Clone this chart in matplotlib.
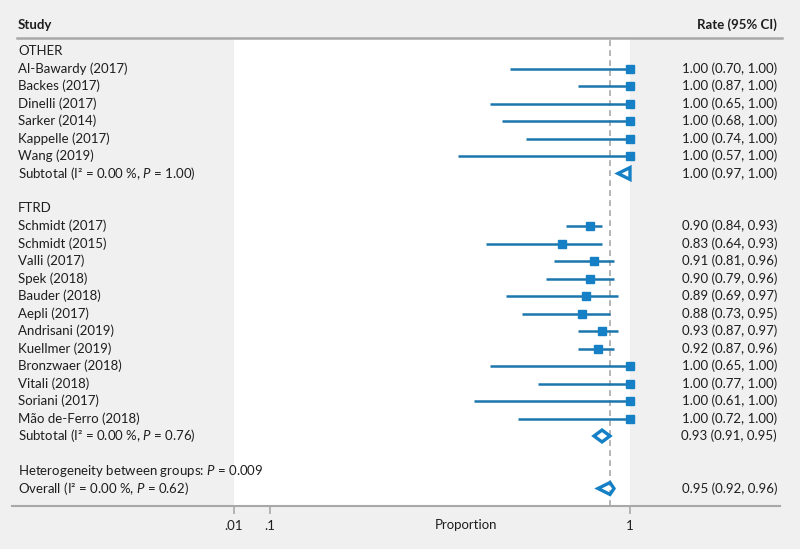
import numpy as np
import matplotlib
matplotlib.use('Agg')
import matplotlib.pyplot as plt
import matplotlib.transforms as mtransforms
from matplotlib.lines import Line2D
from matplotlib.patches import Polygon

# fonts
plt.rcParams['font.family'] = ['Lato', 'DejaVu Sans']
plt.rcParams['mathtext.fontset'] = 'custom'
plt.rcParams['mathtext.rm'] = 'Lato'
plt.rcParams['mathtext.it'] = 'Lato:italic'

# data
other_labels = ['Al-Bawardy (2017)', 'Backes (2017)', 'Dinelli (2017)',
                'Sarker (2014)', 'Kappelle (2017)', 'Wang (2019)']
other_est = [1.00, 1.00, 1.00, 1.00, 1.00, 1.00]
other_lo = [0.70, 0.87, 0.65, 0.68, 0.74, 0.57]
other_hi = [1.00, 1.00, 1.00, 1.00, 1.00, 1.00]
other_sub = [1.00, 0.97, 1.00]
other_sub_label = 'Subtotal (I² = 0.00 %, $P$ = 1.00)'

ftrd_labels = ['Schmidt (2017)', 'Schmidt (2015)', 'Valli (2017)', 'Spek (2018)',
               'Bauder (2018)', 'Aepli (2017)', 'Andrisani (2019)', 'Kuellmer (2019)',
               'Bronzwaer (2018)', 'Vitali (2018)', 'Soriani (2017)', 'Mão de-Ferro (2018)']
ftrd_est = [0.90, 0.83, 0.91, 0.90, 0.89, 0.88, 0.93, 0.92, 1.00, 1.00, 1.00, 1.00]
ftrd_lo = [0.84, 0.64, 0.81, 0.79, 0.69, 0.73, 0.87, 0.87, 0.65, 0.77, 0.61, 0.72]
ftrd_hi = [0.93, 0.93, 0.96, 0.96, 0.97, 0.95, 0.97, 0.96, 1.00, 1.00, 1.00, 1.00]
ftrd_sub = [0.93, 0.91, 0.95]
ftrd_sub_label = 'Subtotal (I² = 0.00 %, $P$ = 0.76)'

overall = [0.95, 0.92, 0.96]
overall_label = 'Overall (I² = 0.00 %, $P$ = 0.62)'
het_label = 'Heterogeneity between groups: $P$ = 0.009'

xticks = [0.01, 0.1, 1]
xticklabels = ['.01', '.1', '1']

# colours
bg = '#f0f0f0'
blue_line = '#1c76ae'
blue_mark = '#1580c6'
grey = '#a8a8a8'
txt = '#1e1e1e'
fs = 9.5

W, H = 800, 549
fig = plt.figure(figsize=(W / 100, H / 100), dpi=100, facecolor=bg)

def fx(px):
    return px / W

def fy(py):
    return 1 - py / H

# plot strip: x .01 -> 234px, 1 -> 630px ; top 38px, bottom 506px
ax = fig.add_axes([fx(234), fy(506), fx(630) - fx(234), fy(38) - fy(506)])
ax.set_facecolor('white')
ax.set_xlim(0.01, 1.0)
first_row, last_row = 51.0, 488.5
row_h = (last_row - first_row) / 25
ax.set_ylim(25 + (506 - last_row) / row_h, -(first_row - 38) / row_h)
for sp in ax.spines.values():
    sp.set_visible(False)
ax.set_yticks([])
ax.set_xticks(xticks)
ax.set_xticklabels(xticklabels, fontsize=fs, color=txt)
ax.tick_params(axis='x', length=6, width=1.2, color=grey, pad=4)

# row positions
labels = []
r = 0
labels.append(('OTHER', r)); r += 1
other_rows = []
for lab in other_labels:
    labels.append((lab, r)); other_rows.append(r); r += 1
other_sub_row = r
labels.append((other_sub_label, r)); r += 2
labels.append(('FTRD', r)); r += 1
ftrd_rows = []
for lab in ftrd_labels:
    labels.append((lab, r)); ftrd_rows.append(r); r += 1
ftrd_sub_row = r
labels.append((ftrd_sub_label, r)); r += 2
labels.append((het_label, r)); r += 1
overall_row = r
labels.append((overall_label, r))

# reference line at overall estimate
ax.axvline(overall[0], color=grey, lw=1.2, ls=(0, (3.5, 2.5)), zorder=1)

# studies
def draw_studies(rws, est, lo, hi):
    ax.hlines(rws, lo, hi, color=blue_line, lw=1.8, zorder=2)
    ax.plot(est, rws, 's', color=blue_mark, ms=6, zorder=3, clip_on=False)

draw_studies(other_rows, other_est, other_lo, other_hi)
draw_studies(ftrd_rows, ftrd_est, ftrd_lo, ftrd_hi)

# pooled diamonds
def diamond(row, vals):
    e, l, h = vals
    d = 0.34
    poly = Polygon([[l, row], [e, row - d], [h, row], [e, row + d]], closed=True,
                   fill=False, edgecolor=blue_mark, lw=2.4, joinstyle='miter',
                   zorder=4, clip_on=False)
    ax.add_patch(poly)

diamond(other_sub_row, other_sub)
diamond(ftrd_sub_row, ftrd_sub)
diamond(overall_row, overall)

# text columns
tr = mtransforms.blended_transform_factory(fig.transFigure, ax.transData)
for lab, rw in labels:
    fig.text(fx(18), rw, lab, transform=tr, ha='left', va='center', fontsize=fs, color=txt)

def ci_text(rws, est, lo, hi):
    for rw, e, l, h in zip(rws, est, lo, hi):
        fig.text(fx(777), rw, f'{e:.2f} ({l:.2f}, {h:.2f})', transform=tr,
                 ha='right', va='center', fontsize=fs, color=txt)

ci_text(other_rows, other_est, other_lo, other_hi)
ci_text([other_sub_row], [other_sub[0]], [other_sub[1]], [other_sub[2]])
ci_text(ftrd_rows, ftrd_est, ftrd_lo, ftrd_hi)
ci_text([ftrd_sub_row], [ftrd_sub[0]], [ftrd_sub[1]], [ftrd_sub[2]])
ci_text([overall_row], [overall[0]], [overall[1]], [overall[2]])

# header
fig.text(fx(18), fy(25), 'Study', ha='left', va='center', fontsize=fs, fontweight='bold', color=txt)
fig.text(fx(777), fy(25), 'Rate (95% CI)', ha='right', va='center', fontsize=fs,
         fontweight='bold', color=txt)
fig.add_artist(Line2D([fx(17), fx(782)], [fy(38), fy(38)], color=grey, lw=1.8))
fig.add_artist(Line2D([fx(12), fx(780)], [fy(506), fy(506)], color=grey, lw=1.5))

# axis title
fig.text(fx(466), fy(525), 'Proportion', ha='center', va='center', fontsize=fs, color=txt)

fig.savefig('out.png', dpi=100, facecolor=bg)
